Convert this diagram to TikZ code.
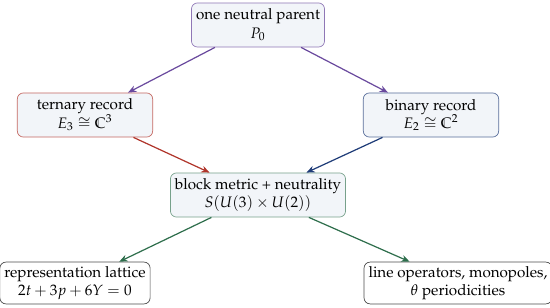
\documentclass[tikz,border=0pt]{standalone}
\usepackage[T1]{fontenc}
\usepackage{mathpazo}
\usepackage{amssymb,amsmath}
\usepackage{tikz}
\usetikzlibrary{arrows.meta,calc}
\definecolor{boxfill}{HTML}{F2F5F9}
\definecolor{cpurple}{HTML}{6A4A9E}
\definecolor{cred}{HTML}{B0352B}
\definecolor{cnavy}{HTML}{1F3C78}
\definecolor{cgreen}{HTML}{2E6E4C}

\begin{document}
\begin{tikzpicture}[x=0.0231cm, y=-0.0231cm, >={Stealth[length=5.5pt,width=4.5pt]}, font=\normalsize]
		\tikzset{box/.style={draw, rounded corners=4pt, fill=boxfill, align=center, inner xsep=3pt, inner ysep=2.5pt, minimum height=29pt, line width=0.45pt}}
		\tikzset{rec/.style={box, minimum width=89pt}}
		\tikzset{leaf/.style={box, fill=white, draw=black!70, minimum height=27.5pt}}
		\useasboundingbox (0,0) rectangle (550,308);
		% nodes
		\node[box, draw=cpurple!75] (par) at (258,25) {one neutral parent\\$P_0$};
		\node[rec, draw=cred!75] (ter) at (85,115) {ternary record\\$E_3\cong\mathbb{C}^3$};
		\node[rec, draw=cnavy!75] (bin) at (431,115) {binary record\\$E_2\cong\mathbb{C}^2$};
		\node[box, draw=cgreen!65] (blk) at (258,195) {block metric + neutrality\\$S(U(3)\times U(2))$};
		\node[leaf] (lat) at (75,283) {representation lattice\\$2t+3p+6Y=0$};
		\node[leaf] (lin) at (458,283) {line operators, monopoles,\\$\theta$ periodicities};
		% arrows
		\draw[->, cpurple, thick] (par) -- (ter);
		\draw[->, cpurple, thick] (par) -- (bin);
		\draw[->, cred, thick] (ter) -- (blk);
		\draw[->, cnavy, thick] (bin) -- (blk);
		\draw[->, cgreen, thick] (blk) -- (lat);
		\draw[->, cgreen, thick] (blk) -- (lin);
	\end{tikzpicture}
\end{document}
